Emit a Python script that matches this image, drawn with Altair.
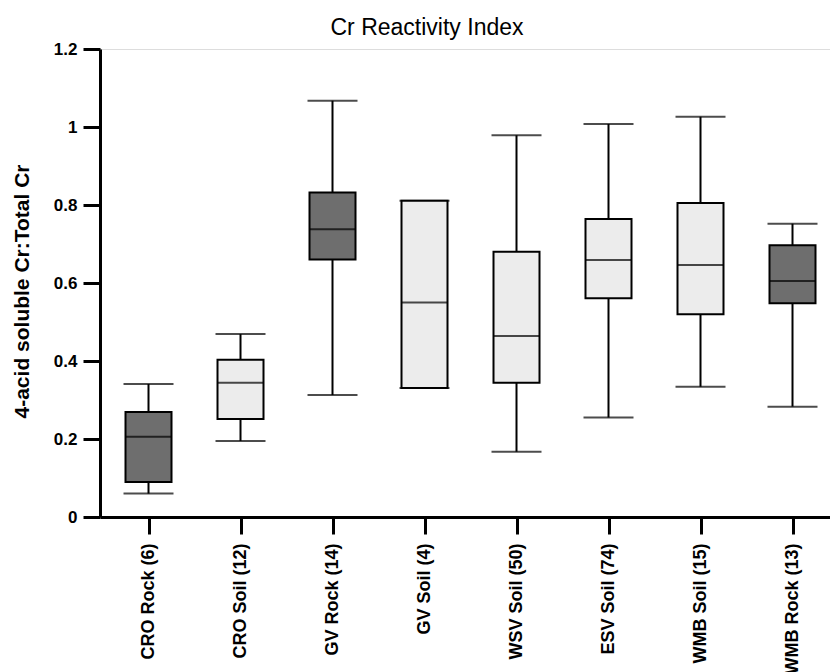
import altair as alt
import pandas as pd

categories = ["CRO Rock (6)", "CRO Soil (12)", "GV Rock (14)", "GV Soil (4)",
              "WSV Soil (50)", "ESV Soil (74)", "WMB Soil (15)", "WMB Rock (13)"]
material = ["Rock", "Soil", "Rock", "Soil", "Soil", "Soil", "Soil", "Rock"]
whisker_low = [0.060, 0.195, 0.313, 0.331, 0.167, 0.255, 0.334, 0.283]
q1 = [0.090, 0.251, 0.660, 0.331, 0.344, 0.561, 0.520, 0.548]
median = [0.206, 0.344, 0.738, 0.550, 0.464, 0.659, 0.646, 0.605]
q3 = [0.269, 0.403, 0.832, 0.811, 0.680, 0.764, 0.805, 0.697]
whisker_high = [0.341, 0.469, 1.067, 0.811, 0.979, 1.008, 1.026, 0.752]
y_ticks = [0, 0.2, 0.4, 0.6, 0.8, 1.0, 1.2]

df = pd.DataFrame({
    "group": categories, "material": material, "low": whisker_low,
    "q1": q1, "median": median, "q3": q3, "high": whisker_high,
})

FONT = "Liberation Sans"

x_enc = alt.X(
    "group:N",
    sort=categories,
    scale=alt.Scale(type="point", domain=categories, padding=0.4674, align=0.564),
    axis=alt.Axis(
        title=None, labelAngle=-90, labelFontSize=18, labelFontWeight="bold",
        labelFont=FONT, labelPadding=9, tickSize=17,
        labelOverlap=False, labelLimit=0,
    ),
)

y_scale = alt.Scale(domain=[0, 1.2], nice=False, zero=True)
y_axis = alt.Axis(
    values=y_ticks, format=".1~f", grid=False,
    title="4-acid soluble Cr:Total Cr", titleFontSize=21,
    titleFontWeight="bold", titleFont=FONT, titleX=-78, titleY=242,
    titleAlign="center", titleBaseline="middle", titleAngle=-90,
    labelFontSize=17, labelFontWeight="bold", labelFont=FONT,
    labelPadding=6, tickSize=17,
)

base = alt.Chart(df)

whiskers = base.mark_rule(color="black", strokeWidth=2).encode(
    x=x_enc,
    y=alt.Y("low:Q", scale=y_scale, axis=y_axis),
    y2="high:Q",
)

caps_low = base.mark_tick(color="black", size=50, thickness=2).encode(
    x=x_enc, y=alt.Y("low:Q", scale=y_scale, axis=y_axis)
)
caps_high = base.mark_tick(color="black", size=50, thickness=2).encode(
    x=x_enc, y=alt.Y("high:Q", scale=y_scale, axis=y_axis)
)

boxes = base.mark_bar(size=46, stroke="black", strokeWidth=2).encode(
    x=x_enc,
    y=alt.Y("q1:Q", scale=y_scale, axis=y_axis),
    y2="q3:Q",
    fill=alt.Fill(
        "material:N",
        scale=alt.Scale(domain=["Rock", "Soil"], range=["#6e6e6e", "#ececec"]),
        legend=None,
    ),
)

medians = base.mark_tick(color="black", size=46, thickness=2).encode(
    x=x_enc, y=alt.Y("median:Q", scale=y_scale, axis=y_axis)
)

chart = alt.layer(whiskers, caps_low, caps_high, boxes, medians).properties(
    width=730,
    height=468,
    title=alt.TitleParams(
        "Cr Reactivity Index", fontSize=23, fontWeight="normal", font=FONT,
        anchor="middle", frame="group", dx=-38, dy=23, offset=5,
        baseline="alphabetic", color="black",
    ),
    autosize=alt.AutoSizeParams(type="none"),
    padding={"left": 100, "top": 49, "right": 0, "bottom": 155},
).configure_view(stroke=None).configure(background="white").configure_axis(
    domainWidth=3, tickWidth=3, domainColor="black", tickColor="black",
    labelColor="black", titleColor="black",
)

chart.save("out.html", embed_options={"renderer": "svg", "actions": False})
